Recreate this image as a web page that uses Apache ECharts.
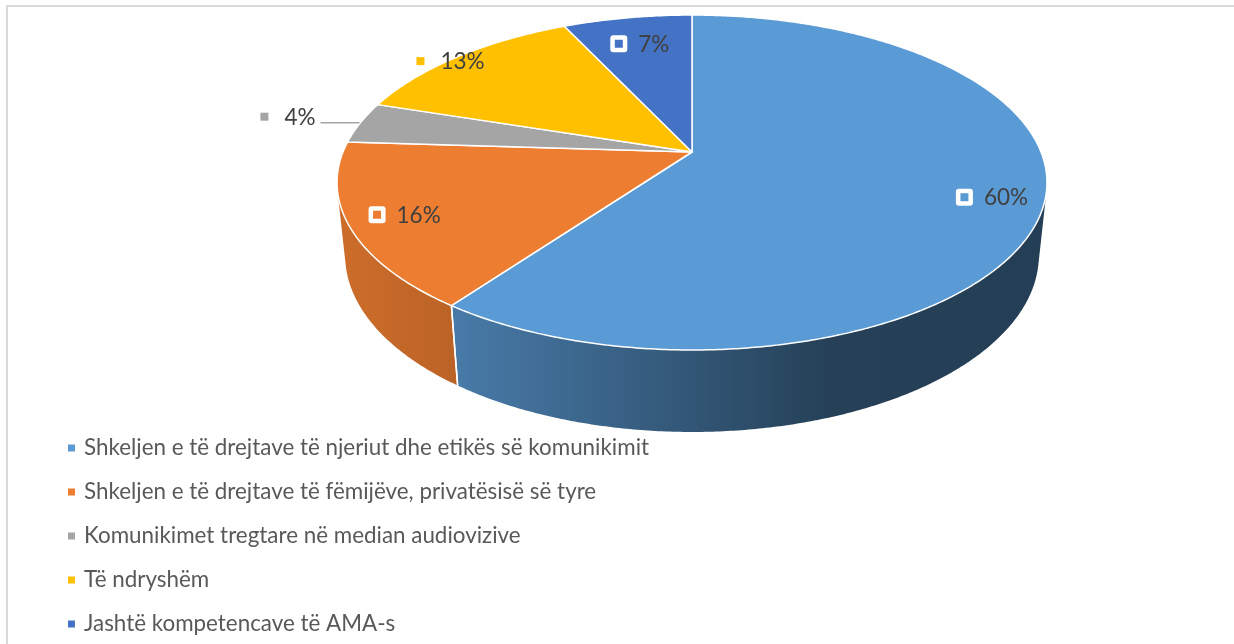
<!DOCTYPE html>
<html><head><meta charset="utf-8">
<script src="https://cdn.jsdelivr.net/npm/echarts@6/dist/echarts.min.js"></script>
<style>html,body{margin:0;padding:0;background:#fff}#c{width:1234px;height:644px}</style>
</head><body><div id="c"></div>
<script>
// ---- data ----
const categories = [
  'Shkeljen e të drejtave të njeriut dhe etikës së komunikimit',
  'Shkeljen e të drejtave të fëmijëve, privatësisë së tyre',
  'Komunikimet tregtare në median audiovizive',
  'Të ndryshëm',
  'Jashtë kompetencave të AMA-s'
];
const values = [60, 16, 4, 13, 7];
const colors = ['#5B9BD5', '#ED7D31', '#A5A5A5', '#FFC000', '#4472C4'];
const labelRadius = [0.86, 0.85, 1.0, 0.98, 0.78];
const labelMode = ['inside', 'inside', 'leader', 'outside', 'inside'];

// ---- 3D view (styling) ----
const CX = 692, CY = 152, F = 1698, DIST = 4.865, TILT = 27.64 * Math.PI / 180, DEPTH = 0.2374;
const SA = Math.sin(TILT), CA = Math.cos(TILT);
function proj(X, Y, Z) { const dep = DIST - (Y * SA + Z * CA); return [CX + F * X / dep, CY - F * (Y * CA - Z * SA) / dep]; }
function rim(t, r, Y) { return proj(r * Math.sin(t), Y, -r * Math.cos(t)); }
const thA = Math.acos(-1 / (DIST * CA)), thB = 2 * Math.PI - thA;
const xL = rim(thB, 1, 0)[0], xR = rim(thA, 1, 0)[0];
const shadeStops = [[0, 0.87], [0.18, 0.78], [0.70, 0.41], [1, 0.40]];
function shade(hex, f) {
  const n = parseInt(hex.slice(1), 16);
  const r = Math.round(((n >> 16) & 255) * f), g = Math.round(((n >> 8) & 255) * f), b = Math.round((n & 255) * f);
  return 'rgb(' + r + ',' + g + ',' + b + ')';
}
function wallFill(hex) {
  return { type: 'linear', x: xL, y: 0, x2: xR, y2: 0, global: true,
    colorStops: shadeStops.map(s => ({ offset: s[0], color: shade(hex, s[1]) })) };
}
const total = values.reduce((a, b) => a + b, 0);
const STEP = Math.PI / 360;
function arc(t1, t2, Y) {
  const pts = []; const n = Math.max(2, Math.ceil((t2 - t1) / STEP));
  for (let k = 0; k <= n; k++) pts.push(rim(t1 + (t2 - t1) * k / n, 1, Y));
  return pts;
}
const FONT = 'Lato', LABEL_SIZE = 22.5;
const mctx = document.createElement('canvas').getContext('2d');
function textW(s) { mctx.font = LABEL_SIZE + 'px ' + FONT; return mctx.measureText(s).width; }

function labelGroup(x, y, txt, color, framed, align) {
  // align: 'center' => x is group center; 'right' => x is group right edge
  const outer = framed ? 17 : 8, gap = framed ? 11 : 16;
  const w = outer + gap + textW(txt);
  const left = align === 'right' ? x - w : x - w / 2;
  const els = [];
  if (framed) {
    els.push({ type: 'rect', z2: 10, shape: { x: left, y: y - 8.5, width: 17, height: 17, r: 3 }, style: { fill: '#fff' } });
    els.push({ type: 'rect', z2: 11, shape: { x: left + 4.5, y: y - 4, width: 8, height: 8 }, style: { fill: color } });
  } else {
    els.push({ type: 'rect', z2: 11, shape: { x: left, y: y - 4, width: 8, height: 8 }, style: { fill: color } });
  }
  els.push({ type: 'text', z2: 12, x: left + outer + gap, y: y + 1,
    style: { text: txt, fontFamily: FONT, fontSize: LABEL_SIZE, fill: '#404040', align: 'left', verticalAlign: 'middle' } });
  return els;
}

function renderItem(params, api) {
  const i = params.dataIndex;
  let start = 0; for (let j = 0; j < i; j++) start += values[j];
  const t1 = start / total * 2 * Math.PI, t2 = (start + api.value(0)) / total * 2 * Math.PI;
  let children = [];
  const v1 = Math.max(t1, thA), v2 = Math.min(t2, thB);
  if (v2 > v1) {
    const pts = arc(v1, v2, 0).concat(arc(v1, v2, -DEPTH).reverse());
    children.push({ type: 'polygon', z2: 1, shape: { points: pts }, style: { fill: wallFill(colors[i]) } });
  }
  [t1, t2].forEach(t => {
    if (t > thA && t < thB) {
      const a = rim(t, 1, 0), b = rim(t, 1, -DEPTH);
      children.push({ type: 'line', z2: 2, shape: { x1: a[0], y1: a[1], x2: b[0], y2: b[1] }, style: { stroke: '#fff', lineWidth: 1.5 } });
    }
  });
  const top = [proj(0, 0, 0)].concat(arc(t1, t2, 0));
  children.push({ type: 'polygon', z2: 5, shape: { points: top }, style: { fill: colors[i], stroke: '#fff', lineWidth: 1.5, lineJoin: 'round' } });

  const tm = (t1 + t2) / 2;
  const txt = Math.round(api.value(0) / total * 100) + '%';
  const mode = labelMode[i];
  if (mode === 'inside') {
    const p = rim(tm, labelRadius[i], 0);
    children = children.concat(labelGroup(p[0], p[1], txt, colors[i], true, 'center'));
  } else if (mode === 'outside') {
    const p = rim(tm, labelRadius[i], 0);
    children = children.concat(labelGroup(p[0] - 12, p[1] + 3, txt, colors[i], false, 'center'));
  } else {
    const e = rim(tm, labelRadius[i], 0);
    const LEN = 40;
    children.push({ type: 'line', z2: 10, shape: { x1: e[0] - 1, y1: e[1], x2: e[0] - LEN, y2: e[1] }, style: { stroke: '#A6A6A6', lineWidth: 1.5 } });
    children = children.concat(labelGroup(e[0] - LEN - 5, e[1] - 6, txt, colors[i], false, 'right'));
  }
  return { type: 'group', children };
}

const chart = echarts.init(document.getElementById('c'), null, { renderer: 'canvas' });
chart.setOption({
  animation: false,
  color: colors,
  graphic: [{ type: 'rect', z: -1, shape: { x: 7, y: 6, width: 1400, height: 800 }, style: { fill: 'none', stroke: '#D9D9D9', lineWidth: 2 }, silent: true }],
  legend: {
    orient: 'vertical', left: 68, top: 436, padding: 0, itemWidth: 7, itemHeight: 7, itemGap: 20, icon: 'rect',
    selectedMode: false, data: categories,
    textStyle: { fontFamily: FONT, fontSize: 22.4, color: '#595959', lineHeight: 24, padding: [0, 0, 0, 4] }
  },
  series: [
    { type: 'custom', name: 'slices', coordinateSystem: 'none', renderItem,
      data: values.map((v, i) => ({ name: categories[i], value: v })) },
    { type: 'pie', name: 'legendSource', center: [-500, -500], radius: [0, 1], silent: true,
      label: { show: false }, labelLine: { show: false },
      data: values.map((v, i) => ({ name: categories[i], value: v })) }
  ]
});
</script></body></html>
